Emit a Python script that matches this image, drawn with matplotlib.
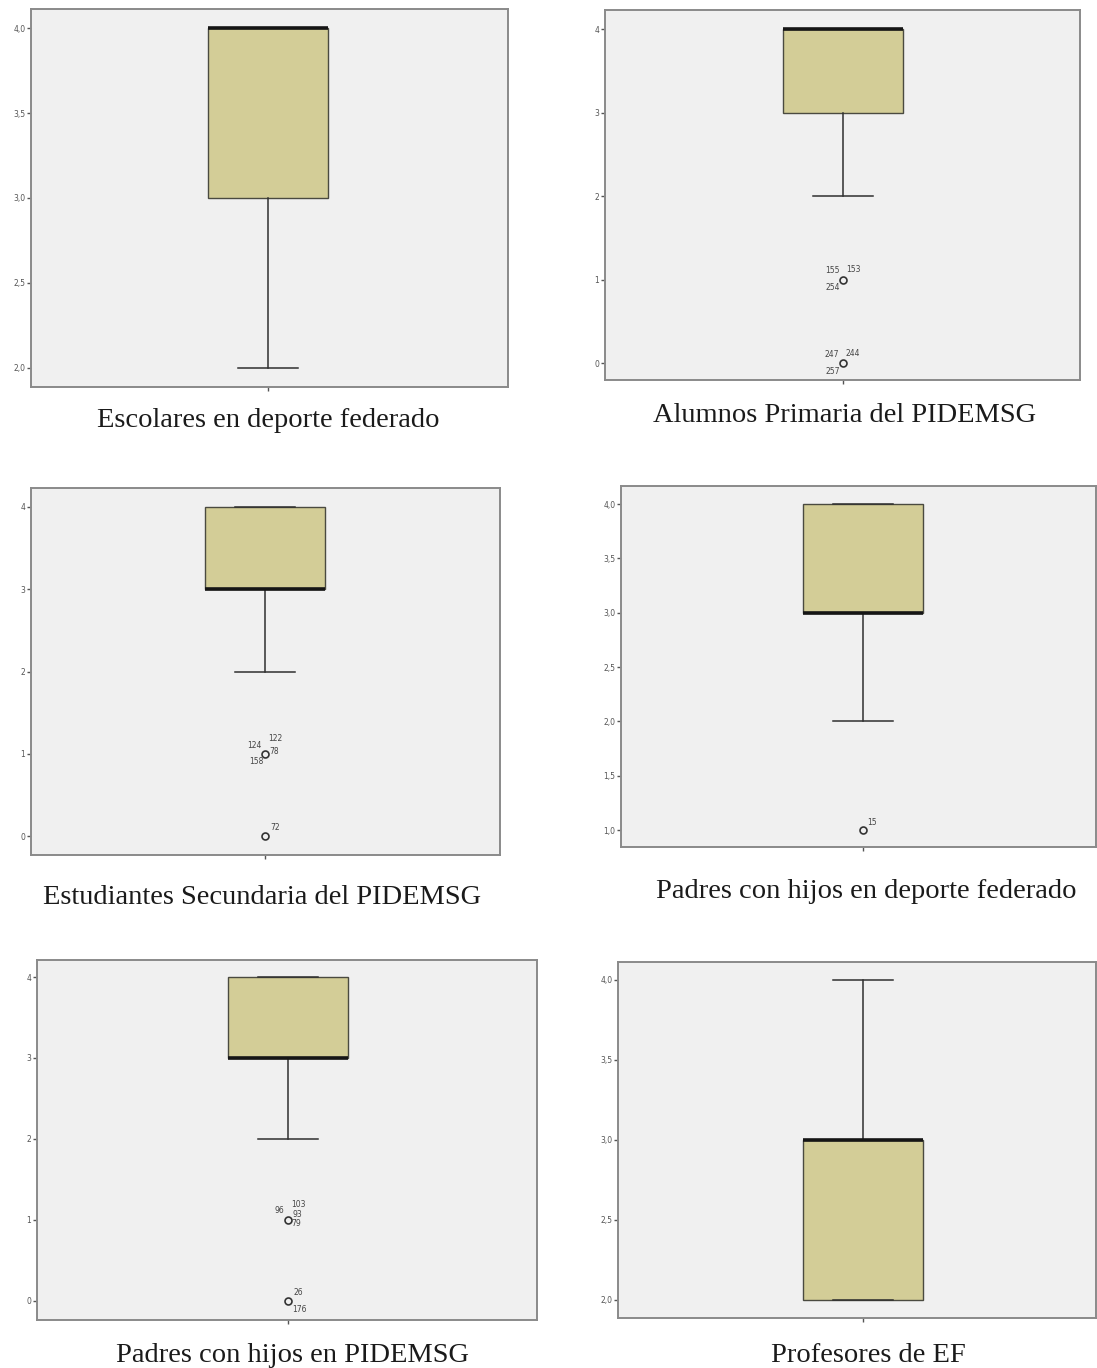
import matplotlib
matplotlib.use("Agg")
import matplotlib.pyplot as plt

# ---------------- data ----------------
titles = [
    "Escolares en deporte federado",
    "Alumnos Primaria del PIDEMSG",
    "Estudiantes Secundaria del PIDEMSG",
    "Padres con hijos en deporte federado",
    "Padres con hijos en PIDEMSG",
    "Profesores de EF",
]
q1 = [3, 3, 3, 3, 3, 2]
medians = [4, 4, 3, 3, 3, 3]
q3 = [4, 4, 4, 4, 4, 3]
whis_lo = [2, 2, 2, 2, 2, 2]
whis_hi = [4, 4, 4, 4, 4, 4]
outliers = [[], [1, 0], [1, 0], [1], [1, 0], []]
outlier_ids = [
    [],
    [["155", "153", "254"], ["247", "244", "257"]],
    [["124", "122", "78", "158"], ["72"]],
    [["15"]],
    [["96", "103", "93", "79"], ["26", "176"]],
    [],
]
yticks = [
    [2.0, 2.5, 3.0, 3.5, 4.0],
    [0, 1, 2, 3, 4],
    [0, 1, 2, 3, 4],
    [1.0, 1.5, 2.0, 2.5, 3.0, 3.5, 4.0],
    [0, 1, 2, 3, 4],
    [2.0, 2.5, 3.0, 3.5, 4.0],
]
decimals = [1, 0, 0, 1, 0, 1]

# ---------------- layout (pixels) ----------------
W, H = 1097, 1368
panels = [  # left, top, right, bottom, box centre x, ylim
    (31, 9, 508, 387, 268, (1.888, 4.112)),
    (605, 10, 1080, 380, 843, (-0.20, 4.228)),
    (31, 488, 500, 855, 265, (-0.23, 4.23)),
    (621, 486, 1096, 847, 863, (0.844, 4.166)),
    (37, 960, 537, 1320, 288, (-0.235, 4.21)),
    (618, 962, 1096, 1318, 863, (1.8875, 4.1125)),
]
caption_pos = [(268, 420), (845, 416), (262, 898), (866, 892), (293, 1356), (868, 1356)]
# label offsets (pixels) relative to outlier circle, same nesting as outlier_ids
label_offsets = [
    [],
    [[(-11, 9), (10, 10), (-10, -8)], [(-11, 9), (10, 10), (-10, -8)]],
    [[(-11, 8), (10, 15), (9, 2), (-9, -8)], [(10, 9)]],
    [[(9, 8)]],
    [[(-9, 9), (10, 15), (9, 5), (8, -4)], [(10, 8), (11, -9)]],
    [],
]
box_px = 120

fig = plt.figure(figsize=(W / 100, H / 100), dpi=100)
fig.patch.set_facecolor("white")

for i in range(6):
    l, t, r, b, cx, ylim = panels[i]
    ax = fig.add_axes([l / W, 1 - b / H, (r - l) / W, (b - t) / H])
    ax.set_facecolor("#f0f0f0")
    pos = (cx - l) / (r - l)
    width = box_px / (r - l)
    stats = [{
        "med": medians[i], "q1": q1[i], "q3": q3[i],
        "whislo": whis_lo[i], "whishi": whis_hi[i],
        "fliers": outliers[i],
    }]
    ax.bxp(stats, positions=[pos], widths=width, patch_artist=True,
           showfliers=True, capwidths=width / 2,
           boxprops=dict(facecolor="#d3cd97", edgecolor="#4a4a40", linewidth=1.0),
           medianprops=dict(color="#151515", linewidth=2.6),
           whiskerprops=dict(color="#303030", linewidth=1.1),
           capprops=dict(color="#303030", linewidth=1.1),
           flierprops=dict(marker="o", markersize=5, markerfacecolor="none",
                           markeredgecolor="#333333", markeredgewidth=1.2))
    # outlier case labels
    for j, val in enumerate(outliers[i]):
        for k, lab in enumerate(outlier_ids[i][j]):
            dx, dy = label_offsets[i][j][k]
            ax.annotate(lab, (pos, val), xytext=(dx, dy), textcoords="offset pixels",
                        ha="center", va="center", fontsize=5.5, color="#444444",
                        family="DejaVu Sans")
    ax.set_xlim(0, 1)
    ax.set_ylim(*ylim)
    ax.set_yticks(yticks[i])
    fmt = "{:.%df}" % decimals[i]
    ax.set_yticklabels([fmt.format(v).replace(".", ",") for v in yticks[i]],
                       fontsize=5.5, color="#555555")
    ax.set_xticks([pos])
    ax.set_xticklabels([""])
    ax.tick_params(axis="both", length=3, width=1, color="#555555", pad=1)
    for sp in ax.spines.values():
        sp.set_color("#8a8a8a")
        sp.set_linewidth(1.4)
    cxp, cyp = caption_pos[i]
    fig.text(cxp / W, 1 - cyp / H, titles[i], ha="center", va="center",
             fontsize=20.5, family="Liberation Serif", color="#1a1a1a")

fig.savefig("out.png", dpi=100)
